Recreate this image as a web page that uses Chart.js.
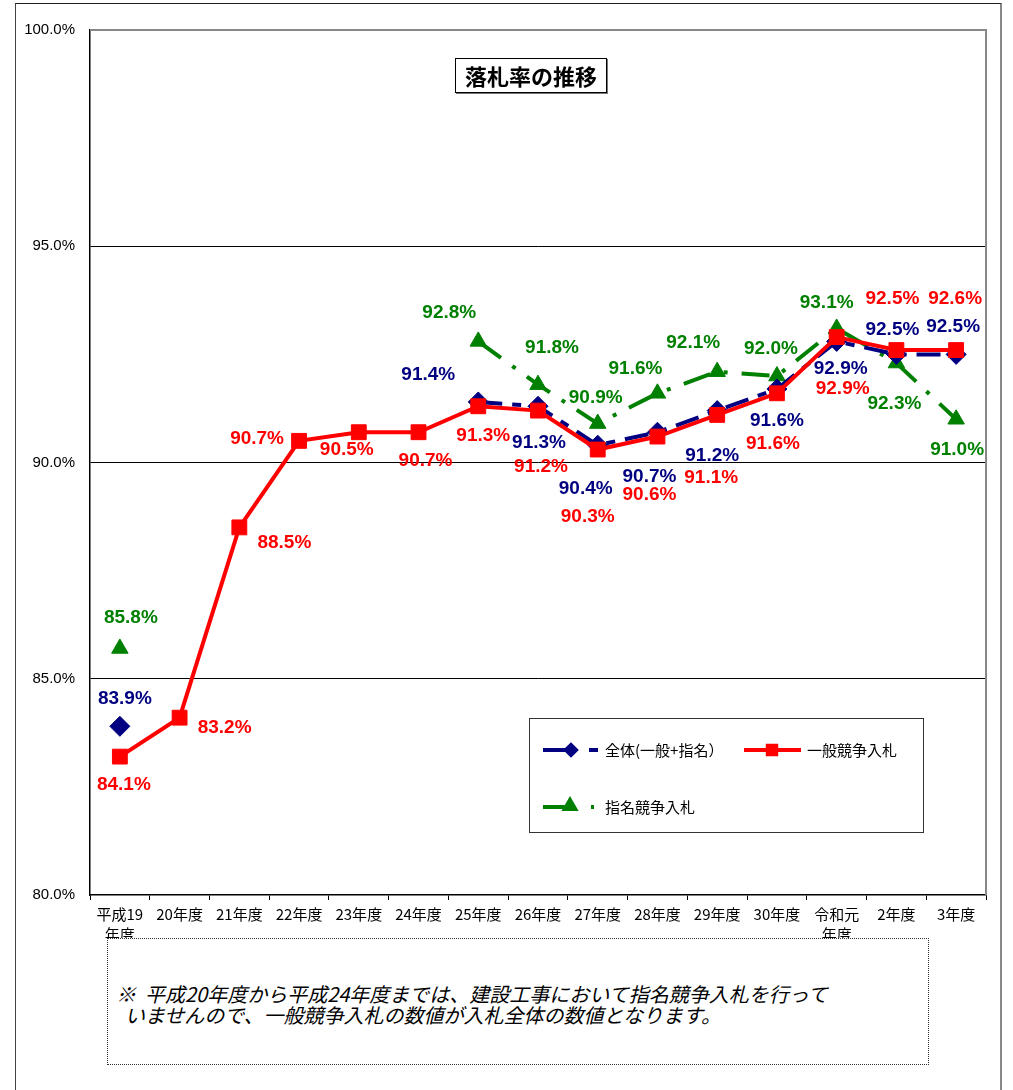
<!DOCTYPE html>
<html lang="ja">
<head>
<meta charset="utf-8">
<title>落札率の推移</title>
<script src="https://cdn.jsdelivr.net/npm/chart.js@4.4.1/dist/chart.umd.min.js"></script>
<style>
	html, body { margin: 0; padding: 0; background: #fff; }
	#wrap { position: relative; width: 1013px; height: 1090px; overflow: hidden; }
	#frame {
		position: absolute; left: 15px; top: 3px; width: 984px; height: 1200px;
		border-left: 1px solid #444; border-top: 1px solid #222; border-right: 2px solid #888;
	}
	#chart { position: absolute; left: 0; top: 0; }
	#title {
		position: absolute; left: 455px; top: 58px; width: 150px; height: 33px;
		border: 1px solid #000; box-shadow: 1px 1px 0 #777; background: #fff;
		font: bold 22px "Noto Sans CJK JP", sans-serif; line-height: 33px; text-align: center;
	}
	#note {
		position: absolute; left: 107px; top: 938px; width: 822px; height: 127px;
		border: 1px dotted #333; background: #fff; box-sizing: border-box;
		padding: 44px 0 0 8px;
		font: italic 20px "Noto Sans CJK JP", sans-serif; line-height: 21px; white-space: pre;
	}
</style>
</head>
<body>
<div id="wrap">
	<div id="frame"></div>
	<canvas id="chart" width="1013" height="1090"></canvas>
	<div id="title">落札率の推移</div>
	<div id="note">※  平成20年度から平成24年度までは、建設工事において指名競争入札を行って
  いませんので、一般競争入札の数値が入札全体の数値となります。</div>
</div>
<script>
'use strict';

const
	categories = [['平成19', '年度'], '20年度', '21年度', '22年度', '23年度', '24年度', '25年度',
		'26年度', '27年度', '28年度', '29年度', '30年度', ['令和元', '年度'], '2年度', '3年度'],
	yTicks = [80, 85, 90, 95, 100];

// plotted values (%)
const
	totalRate = [83.9, null, null, null, null, null, 91.4, 91.3, 90.4, 90.7, 91.2, 91.7, 92.8, 92.5, 92.5],
	generalRate = [83.2, 84.1, 88.5, 90.5, 90.7, 90.7, 91.3, 91.2, 90.3, 90.6, 91.1, 91.6, 92.9, 92.6, 92.6],
	nominatedRate = [85.7, null, null, null, null, null, 92.8, 91.8, 90.9, 91.6, 92.1, 92.0, 93.1, 92.3, 91.0];

// data label texts as printed on the chart
const
	totalText = ['83.9%', '', '', '', '', '', '91.4%', '91.3%', '90.4%', '90.7%', '91.2%', '91.6%', '92.9%', '92.5%', '92.5%'],
	generalText = ['84.1%', '83.2%', '88.5%', '90.7%', '90.5%', '90.7%', '91.3%', '91.2%', '90.3%', '90.6%', '91.1%', '91.6%', '92.9%', '92.5%', '92.6%'],
	nominatedText = ['85.8%', '', '', '', '', '', '92.8%', '91.8%', '90.9%', '91.6%', '92.1%', '92.0%', '93.1%', '92.3%', '91.0%'];

// label offsets from the point, px
const
	totalPos = [[5, -28], null, null, null, null, null, [-50, -27], [1, 36], [-12, 44], [-8, 45], [-5, 45], [0, 32], [4, 27], [-4, -25], [-3, -28]],
	generalPos = [[4, 28], [45, 10], [45, 15], [-42, -2], [-12, 18], [7, 29], [5, 29], [3, 56], [-10, 67], [-8, 58], [-6, 63], [-4, 50], [6, 52], [-4, -51], [-1, -51]],
	nominatedPos = [[11, -31], null, null, null, null, null, [-29, -29], [14, -37], [-2, -26], [-22, -25], [-24, -29], [-6, -27], [-10, -26], [-2, 41], [1, 31]];

const
	NAVY = '#000080',
	RED = '#ff0000',
	GREEN = '#008000';

const pointLabels = {
	id: 'pointLabels',
	afterDatasetsDraw(chart) {
		const {ctx} = chart;
		ctx.save();
		ctx.font = 'bold 19px "Liberation Sans", Arial, sans-serif';
		ctx.textAlign = 'center';
		ctx.textBaseline = 'middle';

		chart.data.datasets.forEach((ds, di) => {
			const meta = chart.getDatasetMeta(di);
			ds.labelText.forEach((t, i) => {
				const off = ds.labelPos[i];
				if (!t || !off) {
					return;
				}
				const pt = meta.data[i];
				ctx.fillStyle = ds.borderColor;
				ctx.fillText(t, pt.x + off[0], pt.y + off[1]);
			});
		});

		ctx.restore();
	}
};

const plotFrame = {
	id: 'plotFrame',
	beforeDatasetsDraw(chart) {
		const
			{ctx, chartArea: a} = chart;

		ctx.save();
		ctx.strokeStyle = '#888';
		ctx.lineWidth = 2;
		ctx.beginPath();
		ctx.moveTo(a.left, a.top);
		ctx.lineTo(a.right, a.top);
		ctx.lineTo(a.right, a.bottom);
		ctx.stroke();
		ctx.restore();
	}
};

function sample(ctx, pieces, color, width) {
	ctx.strokeStyle = color;
	ctx.lineWidth = width;
	pieces.forEach(([x1, x2, y]) => {
		ctx.beginPath();
		ctx.moveTo(x1, y);
		ctx.lineTo(x2, y);
		ctx.stroke();
	});
}

function marker(ctx, style, r, color, x, y) {
	ctx.fillStyle = color;
	ctx.strokeStyle = color;
	Chart.helpers.drawPoint(ctx, {pointStyle: style, radius: r, borderWidth: 1, rotation: 0}, x, y);
}

const legendBox = {
	id: 'legendBox',
	afterDraw(chart) {
		const {ctx} = chart;
		ctx.save();
		ctx.fillStyle = '#fff';
		ctx.fillRect(529.5, 718.5, 394, 114);
		ctx.strokeStyle = '#333';
		ctx.lineWidth = 1;
		ctx.strokeRect(529.5, 718.5, 394, 114);

		sample(ctx, [[543, 572, 750], [589, 598, 750]], NAVY, 4);
		marker(ctx, 'rectRot', 5, NAVY, 571, 750);

		sample(ctx, [[744, 801, 750]], RED, 4);
		marker(ctx, 'rect', 6, RED, 772, 750);

		sample(ctx, [[543, 570, 807], [591, 594, 807]], GREEN, 4);
		marker(ctx, 'triangle', 6, GREEN, 570, 806);

		ctx.fillStyle = '#000';
		ctx.font = '15px "Noto Sans CJK JP", sans-serif';
		ctx.textBaseline = 'middle';
		ctx.fillText('全体(一般+指名）', 605, 750);
		ctx.fillText('一般競争入札', 807, 750);
		ctx.fillText('指名競争入札', 605, 807);
		ctx.restore();
	}
};

new Chart(document.getElementById('chart'), {
	type: 'line',
	data: {
		labels: categories,
		datasets: [
			{
				label: '一般競争入札',
				data: generalRate,
				labelText: generalText,
				labelPos: generalPos,
				borderColor: RED,
				backgroundColor: RED,
				borderWidth: 4,
				pointStyle: 'rect',
				pointRadius: 10.5,
				pointBorderWidth: 1,
				order: 1
			},
			{
				label: '全体(一般+指名）',
				data: totalRate,
				labelText: totalText,
				labelPos: totalPos,
				borderColor: NAVY,
				backgroundColor: NAVY,
				borderWidth: 4,
				borderDash: [24, 10, 9, 10],
				pointStyle: 'rectRot',
				pointRadius: 10,
				pointBorderWidth: 1,
				order: 2
			},
			{
				label: '指名競争入札',
				data: nominatedRate,
				labelText: nominatedText,
				labelPos: nominatedPos,
				borderColor: GREEN,
				backgroundColor: GREEN,
				borderWidth: 4,
				borderDash: [28, 14, 4, 14],
				pointStyle: 'triangle',
				pointRadius: 9.5,
				pointBorderWidth: 1,
				order: 3
			}
		]
	},
	options: {
		responsive: false,
		animation: false,
		events: [],
		layout: {padding: {left: 0, top: 30, right: 27, bottom: 150}},
		plugins: {
			legend: {display: false},
			title: {display: false},
			tooltip: {enabled: false}
		},
		elements: {line: {tension: 0}},
		scales: {
			x: {
				offset: true,
				grid: {
					offset: true,
					drawOnChartArea: false,
					drawTicks: true,
					tickLength: 5,
					color: '#000'
				},
				border: {color: '#000', width: 1.5},
				ticks: {
					autoSkip: false,
					maxRotation: 0,
					padding: 5,
					color: '#000',
					font: {family: '"Noto Sans CJK JP", sans-serif', size: 15, lineHeight: 1.3}
				},
				afterFit(scale) {
					scale.height = 45;
				}
			},
			y: {
				min: yTicks[0],
				max: yTicks[yTicks.length - 1],
				afterBuildTicks(scale) {
					scale.ticks = yTicks.map((v) => ({value: v}));
				},
				grid: {
					drawTicks: false,
					color: (c) => (c.tick.value === 80 || c.tick.value === 100 ? 'rgba(0,0,0,0)' : '#000'),
					lineWidth: 1
				},
				border: {color: '#000', width: 1.5},
				ticks: {
					padding: 15,
					color: '#000',
					font: {family: '"Liberation Sans", Arial, sans-serif', size: 15},
					callback: (v) => v.toFixed(1) + '%'
				},
				afterFit(scale) {
					scale.width = 90;
				}
			}
		}
	},
	plugins: [plotFrame, pointLabels, legendBox]
});
</script>
</body>
</html>
